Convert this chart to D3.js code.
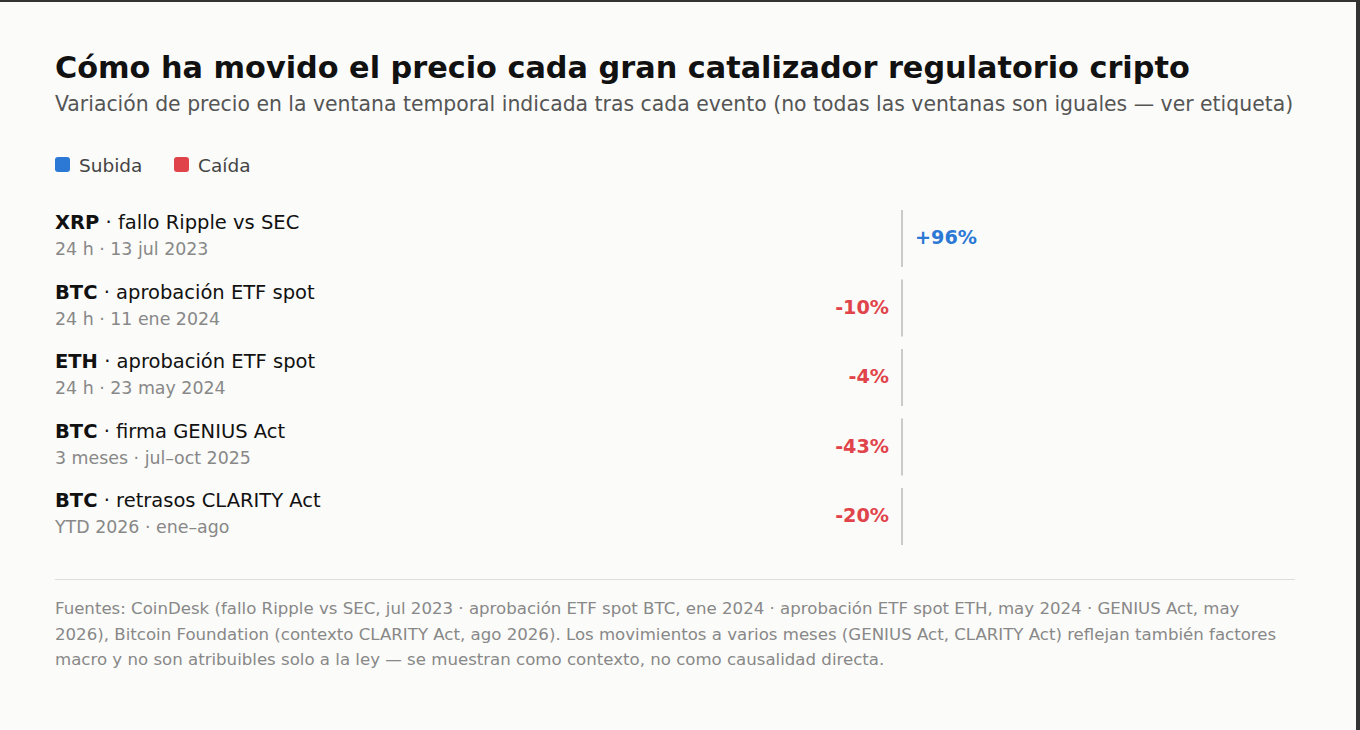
<!DOCTYPE html>
<html>
<head>
<meta charset="utf-8">
<script src="https://cdn.jsdelivr.net/npm/d3@7"></script>
<style>
  html, body { margin: 0; padding: 0; background: #fbfbf9; }
  body { width: 1360px; height: 730px; overflow: hidden; font-family: "DejaVu Sans", sans-serif; }
  svg { display: block; }
</style>
</head>
<body>
<div id="chart"></div>
<script>
/* ===== Data ===== */
const tickers = ['XRP', 'BTC', 'ETH', 'BTC', 'BTC'];
const events = ['fallo Ripple vs SEC', 'aprobación ETF spot', 'aprobación ETF spot', 'firma GENIUS Act', 'retrasos CLARITY Act'];
const windows = ['24 h · 13 jul 2023', '24 h · 11 ene 2024', '24 h · 23 may 2024', '3 meses · jul–oct 2025', 'YTD 2026 · ene–ago'];
const changes = [96, -10, -4, -43, -20];

const legendItems = ['Subida', 'Caída'];
const footerLines = [
  'Fuentes: CoinDesk (fallo Ripple vs SEC, jul 2023 · aprobación ETF spot BTC, ene 2024 · aprobación ETF spot ETH, may 2024 · GENIUS Act, may',
  '2026), Bitcoin Foundation (contexto CLARITY Act, ago 2026). Los movimientos a varios meses (GENIUS Act, CLARITY Act) reflejan también factores',
  'macro y no son atribuibles solo a la ley — se muestran como contexto, no como causalidad directa.'
];

const UP = '#2b78d5';
const DOWN = '#e0444a';

function createChart() {
  const W = 1360, H = 730;
  const left = 55, right = 1295;

  const svg = d3.select('#chart').append('svg')
    .attr('width', W)
    .attr('height', H);

  // frame edges like the screenshot
  svg.append('rect').attr('x', 0).attr('y', 0).attr('width', W).attr('height', 2).attr('fill', '#333');
  svg.append('rect').attr('x', 1356).attr('y', 0).attr('width', 4).attr('height', H).attr('fill', '#333');

  // Title + subtitle
  svg.append('text')
    .attr('x', left).attr('y', 78)
    .attr('font-size', 30.3).attr('font-weight', 'bold').attr('fill', '#111')
    .text('Cómo ha movido el precio cada gran catalizador regulatorio cripto');

  svg.append('text')
    .attr('x', left).attr('y', 111)
    .attr('font-size', 20.4).attr('fill', '#555')
    .text('Variación de precio en la ventana temporal indicada tras cada evento (no todas las ventanas son iguales — ver etiqueta)');

  // Legend
  const legend = svg.append('g').attr('transform', 'translate(' + left + ',157)');
  const legendX = [0, 119];
  legendItems.forEach((name, i) => {
    const g = legend.append('g').attr('transform', 'translate(' + legendX[i] + ',0)');
    g.append('rect').attr('width', 15).attr('height', 15).attr('rx', 3)
      .attr('fill', i === 0 ? UP : DOWN);
    g.append('text').attr('x', 24).attr('y', 14.5)
      .attr('font-size', 18.5).attr('fill', '#444').text(name);
  });

  // Rows
  const y = d3.scaleBand()
    .domain(d3.range(changes.length))
    .range([210, 545])
    .paddingInner(0.18)
    .paddingOuter(0);

  const x = d3.scaleLinear()
    .domain([d3.min(changes), d3.max(changes)])
    .range([726, right]);

  const zero = x(0);

  const rows = svg.selectAll('.row')
    .data(changes)
    .join('g')
    .attr('class', 'row')
    .attr('transform', (d, i) => 'translate(0,' + y(i) + ')');

  const lab = rows.append('text')
    .attr('x', left).attr('y', 19)
    .attr('font-size', 19.5).attr('fill', '#111');
  lab.append('tspan').attr('font-weight', 'bold').text((d, i) => tickers[i]);
  lab.append('tspan').text((d, i) => ' · ' + events[i]);

  rows.append('text')
    .attr('x', left).attr('y', 45)
    .attr('font-size', 17.4).attr('fill', '#888')
    .text((d, i) => windows[i]);

  rows.append('line')
    .attr('x1', zero).attr('x2', zero)
    .attr('y1', 0).attr('y2', y.bandwidth())
    .attr('stroke', '#bbb').attr('stroke-width', 1.5);

  rows.append('text')
    .attr('x', d => d >= 0 ? zero + 13 : zero - 13)
    .attr('y', y.bandwidth() / 2 - 1)
    .attr('dy', '0.35em')
    .attr('text-anchor', d => d >= 0 ? 'start' : 'end')
    .attr('font-size', 19.2).attr('font-weight', 'bold')
    .attr('fill', d => d >= 0 ? UP : DOWN)
    .text(d => (d > 0 ? '+' : '') + d + '%');

  // Divider + footer
  svg.append('line')
    .attr('x1', left).attr('x2', right)
    .attr('y1', 579.5).attr('y2', 579.5)
    .attr('stroke', '#ddd').attr('stroke-width', 1);

  svg.append('g').selectAll('text')
    .data(footerLines)
    .join('text')
    .attr('x', left)
    .attr('y', (d, i) => 614 + i * 25.5)
    .attr('font-size', 16.6).attr('fill', '#888')
    .text(d => d);
}

createChart();
</script>
</body>
</html>
